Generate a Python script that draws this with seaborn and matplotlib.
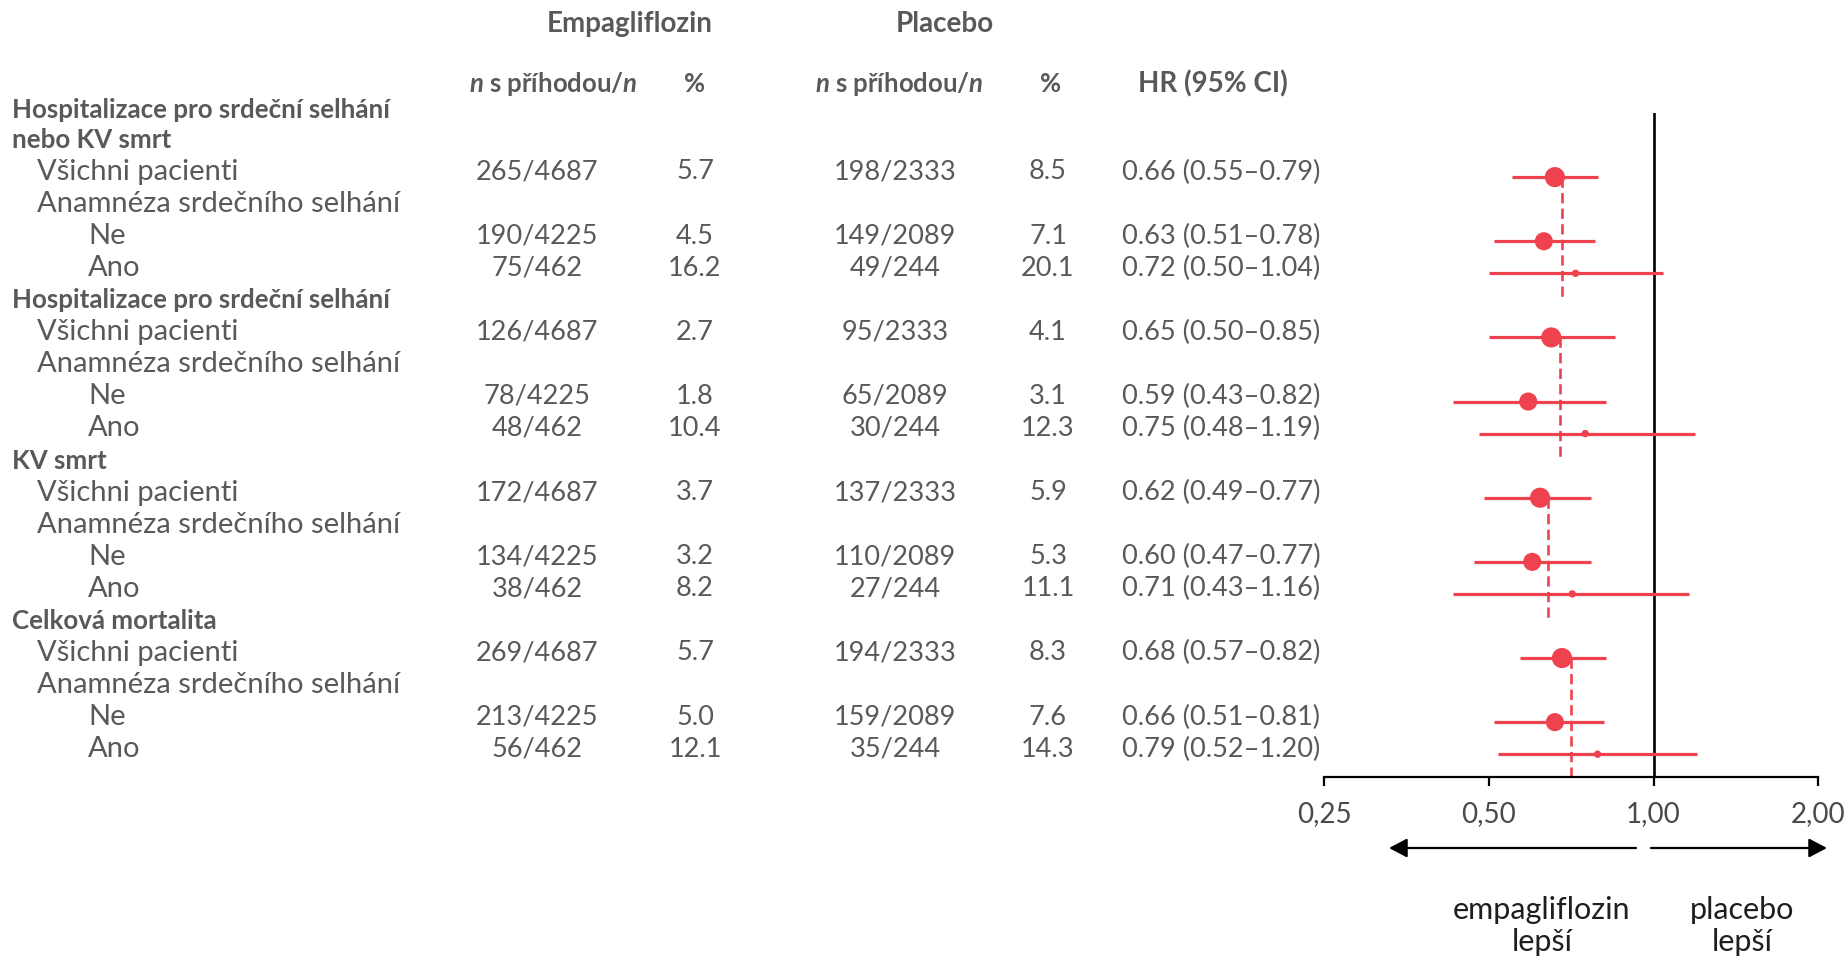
import matplotlib
matplotlib.use("Agg")
import matplotlib.pyplot as plt
import matplotlib.transforms as mtransforms
from matplotlib.patches import FancyArrowPatch
from matplotlib.ticker import FixedLocator, FixedFormatter, NullLocator
import pandas as pd
import seaborn as sns

# ---------------------------------------------------------------- data
endpoints = [
    "Hospitalizace pro srdeční selhání\nnebo KV smrt",
    "Hospitalizace pro srdeční selhání",
    "KV smrt",
    "Celková mortalita",
]
row_labels = ["Všichni pacienti", "Anamnéza srdečního selhání", "Ne", "Ano"]
subgroup_kind = ["all", "no_hf", "hf"]

empa_events = ["265/4687", "190/4225", "75/462",
               "126/4687", "78/4225", "48/462",
               "172/4687", "134/4225", "38/462",
               "269/4687", "213/4225", "56/462"]
empa_pct = ["5.7", "4.5", "16.2", "2.7", "1.8", "10.4",
            "3.7", "3.2", "8.2", "5.7", "5.0", "12.1"]
plac_events = ["198/2333", "149/2089", "49/244",
               "95/2333", "65/2089", "30/244",
               "137/2333", "110/2089", "27/244",
               "194/2333", "159/2089", "35/244"]
plac_pct = ["8.5", "7.1", "20.1", "4.1", "3.1", "12.3",
            "5.9", "5.3", "11.1", "8.3", "7.6", "14.3"]
hr = [0.66, 0.63, 0.72, 0.65, 0.59, 0.75, 0.62, 0.60, 0.71, 0.68, 0.66, 0.79]
ci_low = [0.55, 0.51, 0.50, 0.50, 0.43, 0.48, 0.49, 0.47, 0.43, 0.57, 0.51, 0.52]
ci_high = [0.79, 0.78, 1.04, 0.85, 0.82, 1.19, 0.77, 0.77, 1.16, 0.82, 0.81, 1.20]
# dashed reference line of each endpoint block
ref_hr = [0.68, 0.675, 0.64, 0.705]

x_ticks = [0.25, 0.5, 1.0, 2.0]
x_ticklabels = ["0,25", "0,50", "1,00", "2,00"]

# ---------------------------------------------------------------- style
sns.set_theme(style="white")
plt.rcParams["font.family"] = ["Lato", "DejaVu Sans"]
plt.rcParams["mathtext.fontset"] = "custom"
plt.rcParams["mathtext.it"] = "Lato:italic:bold"
plt.rcParams["mathtext.rm"] = "Lato:bold"
plt.rcParams["mathtext.bf"] = "Lato:bold"

RED = "#EE424E"
GREY = "#595959"
NUM = dict(fontsize=19.5, fontweight="normal", color=GREY)
LABEL = dict(fontsize=21, fontweight="normal", color=GREY)
BOLD = dict(fontsize=18.6, fontweight="bold", color=GREY)

W, H = 1846, 956
fig = plt.figure(figsize=(W / 100, H / 100), dpi=100)

# forest panel: 0.25 ... 2.0 on a log2 axis, rows in line units
px_left, px_right = 1324.4, 1818.1
px_top, px_bottom = 113, 777
row0_px, row_px = 172.0, 32.06          # pixel row of line 0, line pitch
ax = fig.add_axes([px_left / W, (H - px_bottom) / H,
                   (px_right - px_left) / W, (px_bottom - px_top) / H])
ax.set_xscale("log", base=2)
ax.set_xlim(x_ticks[0], x_ticks[-1])
ax.set_ylim((px_bottom - row0_px) / row_px, (px_top - row0_px) / row_px)

# row index of each plotted line
data_rows = []
for g in range(len(endpoints)):
    base = 5 * g
    data_rows += [base, base + 2, base + 3]

mark_off = 0.16
df = pd.DataFrame({
    "hr": hr,
    "lo": ci_low,
    "hi": ci_high,
    "row": [r + mark_off for r in data_rows],
    "kind": subgroup_kind * len(endpoints),
})

ax.hlines(df["row"], df["lo"], df["hi"], color=RED, lw=2.3, zorder=3,
          clip_on=False)
sns.scatterplot(data=df, x="hr", y="row", size="kind",
                sizes={"all": 210, "no_hf": 170, "hf": 28},
                color=RED, linewidth=0, legend=False, ax=ax, zorder=4,
                clip_on=False)

for g, ref in enumerate(ref_hr):
    top = 5 * g + mark_off
    ax.plot([ref, ref], [top, 5 * g + 3.93], color=RED, lw=1.9,
            linestyle=(0, (3.9, 2.0)), zorder=2, clip_on=False)

ax.axvline(1.0, color="black", lw=1.9, zorder=1)

for side in ("top", "right", "left"):
    ax.spines[side].set_visible(False)
ax.spines["bottom"].set_color("black")
ax.spines["bottom"].set_linewidth(1.6)
ax.xaxis.set_major_locator(FixedLocator(x_ticks))
ax.xaxis.set_major_formatter(FixedFormatter(x_ticklabels))
ax.xaxis.set_minor_locator(NullLocator())
ax.yaxis.set_major_locator(NullLocator())
ax.tick_params(axis="x", which="major", direction="out", length=6.5,
               width=1.6, color="black", pad=11, labelsize=20,
               labelcolor="#4a4a4a", bottom=True)
ax.set_xlabel("")
ax.set_ylabel("")

# ---------------------------------------------------------------- table text
trans = mtransforms.blended_transform_factory(
    mtransforms.IdentityTransform(), ax.transData)


def put(x, r, s, **kw):
    ax.text(x, r, s, transform=trans, va="center", clip_on=False, **kw)


def row_of(px):
    return (px - row0_px) / row_px


col_empa_n, col_empa_p = 537, 695
col_plac_n, col_plac_p = 895, 1048
col_hr = 1221

put(630, row_of(24), "Empagliflozin", ha="center", fontsize=20,
    fontweight="bold", color=GREY)
put(945, row_of(24), "Placebo", ha="center", fontsize=20,
    fontweight="bold", color=GREY)
sub_r = row_of(84)
for xn, xp in ((553, 695), (899, 1051)):
    put(xn, sub_r, r"$n$ s příhodou/$n$", ha="center", fontsize=18.5,
        fontweight="bold", color=GREY)
    put(xp, sub_r, "%", ha="center", fontsize=18.5, fontweight="bold",
        color=GREY)
put(1213, sub_r, "HR (95% CI)", ha="center", fontsize=20,
    fontweight="bold", color=GREY)

i = 0
for g, name in enumerate(endpoints):
    base = 5 * g
    lines = name.split("\n")
    for k, ln in enumerate(lines):
        put(12, base - 1 - 0.93 * (len(lines) - 1 - k), ln, ha="left", **BOLD)
    put(37, base, row_labels[0], ha="left", **LABEL)
    put(37, base + 1, row_labels[1], ha="left", **LABEL)
    put(88, base + 2, row_labels[2], ha="left", **LABEL)
    put(88, base + 3, row_labels[3], ha="left", **LABEL)
    for r in (base, base + 2, base + 3):
        put(col_empa_n, r, empa_events[i], ha="center", **NUM)
        put(col_empa_p, r, empa_pct[i], ha="center", **NUM)
        put(col_plac_n, r, plac_events[i], ha="center", **NUM)
        put(col_plac_p, r, plac_pct[i], ha="center", **NUM)
        put(col_hr, r, f"{hr[i]:.2f} ({ci_low[i]:.2f}–{ci_high[i]:.2f})",
            ha="center", **NUM)
        i += 1

# ---------------------------------------------------------------- direction arrows
arrow_y = 1 - 848 / H
for start, tip in ((1636, 1389), (1651, 1827)):
    fig.add_artist(FancyArrowPatch(
        (start / W, arrow_y), (tip / W, arrow_y), transform=fig.transFigure,
        arrowstyle="-|>,head_length=11,head_width=5.8", mutation_scale=1,
        lw=1.6, color="black", shrinkA=0, shrinkB=0))

for xc, word in ((1542, "empagliflozin"), (1742, "placebo")):
    fig.text(xc / W, 1 - 910 / H, word, ha="center", va="center",
             fontsize=22, color="#1e1e1e")
    fig.text(xc / W, 1 - 942 / H, "lepší", ha="center", va="center",
             fontsize=22, color="#1e1e1e")

fig.savefig("out.png", dpi=100, facecolor="white")
